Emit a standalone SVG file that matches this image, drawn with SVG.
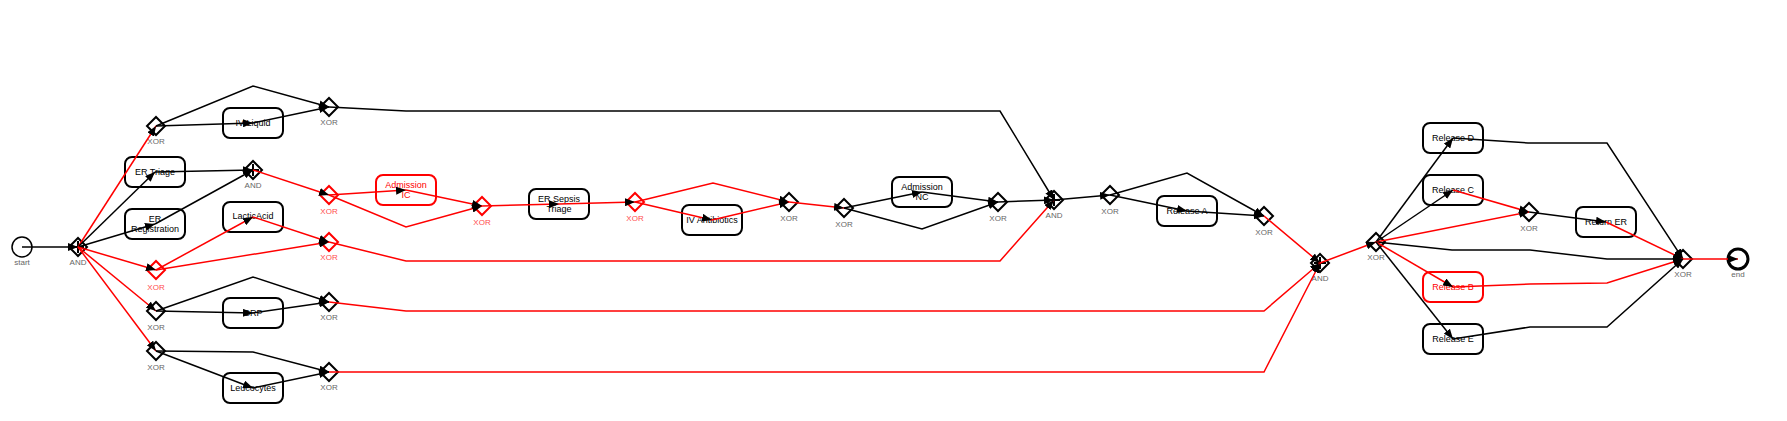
<svg xmlns="http://www.w3.org/2000/svg" width="1787" height="421" viewBox="0 0 1787 421">
<style>
.bg{fill:#fff}
.box{fill:#fff;stroke:#000;stroke-width:2}
.box.red{stroke:#f00}
.gw{fill:#fff;stroke:#000;stroke-width:2}
.gw.red{stroke:#f00}
.plus{stroke:#000;stroke-width:2;fill:none}
.e{fill:none;stroke:#000;stroke-width:1.5;marker-end:url(#arr)}
.e.r{stroke:#f00}
.t{font-family:"Liberation Sans",Arial,sans-serif;font-size:9px;fill:#000;text-anchor:middle}
.t.red{fill:#f00}
.lb{font-family:"Liberation Sans",Arial,sans-serif;font-size:8px;fill:#666;text-anchor:middle}
.lb.red{fill:#ff4d4d}
</style>
<defs>
<marker id="arr" markerUnits="userSpaceOnUse" markerWidth="10" markerHeight="8" refX="10" refY="4" orient="auto">
<path d="M0,0 L10,4 L0,8 Z" fill="#000"/>
</marker>
<path id="dia" d="M-9,0 L0,-9 L9,0 L0,9 Z"/>
<path id="pl" d="M0,-6 V6 M-6,0 H6"/>
</defs>
<rect class="bg" x="0" y="0" width="1787" height="421"/>

<g id="start"><circle cx="22" cy="247" r="10" fill="#fff" stroke="#000" stroke-width="1.5"/><text class="lb" x="22" y="265">start</text></g>
<g id="end"><circle cx="1738" cy="259" r="10" fill="#fff" stroke="#000" stroke-width="3"/><text class="lb" x="1738" y="277">end</text></g>

<g id="g1"><use href="#dia" class="gw" x="78" y="247"/><use href="#pl" class="plus" x="78" y="247"/><text class="lb" x="78" y="265">AND</text></g>
<g id="a2"><use href="#dia" class="gw" x="253" y="170"/><use href="#pl" class="plus" x="253" y="170"/><text class="lb" x="253" y="188">AND</text></g>
<g id="a3"><use href="#dia" class="gw" x="1054" y="200"/><use href="#pl" class="plus" x="1054" y="200"/><text class="lb" x="1054" y="218">AND</text></g>
<g id="a4"><use href="#dia" class="gw" x="1320" y="263"/><use href="#pl" class="plus" x="1320" y="263"/><text class="lb" x="1320" y="281">AND</text></g>

<g id="x1"><use href="#dia" class="gw" x="156" y="126"/><text class="lb" x="156" y="144">XOR</text></g>
<g id="x2"><use href="#dia" class="gw" x="329" y="107"/><text class="lb" x="329" y="125">XOR</text></g>
<g id="x3"><use href="#dia" class="gw red" x="156" y="270"/><text class="lb red" x="156" y="290">XOR</text></g>
<g id="x4"><use href="#dia" class="gw red" x="329" y="242"/><text class="lb red" x="329" y="260">XOR</text></g>
<g id="x5"><use href="#dia" class="gw" x="156" y="311"/><text class="lb" x="156" y="330">XOR</text></g>
<g id="x6"><use href="#dia" class="gw" x="329" y="302"/><text class="lb" x="329" y="320">XOR</text></g>
<g id="x7"><use href="#dia" class="gw" x="156" y="351"/><text class="lb" x="156" y="370">XOR</text></g>
<g id="x8"><use href="#dia" class="gw" x="329" y="372"/><text class="lb" x="329" y="390">XOR</text></g>
<g id="x9"><use href="#dia" class="gw red" x="329" y="195"/><text class="lb red" x="329" y="214">XOR</text></g>
<g id="x10"><use href="#dia" class="gw red" x="482" y="206"/><text class="lb red" x="482" y="225">XOR</text></g>
<g id="x11"><use href="#dia" class="gw red" x="635" y="202"/><text class="lb red" x="635" y="221">XOR</text></g>
<g id="x12"><use href="#dia" class="gw" x="789" y="202"/><text class="lb" x="789" y="221">XOR</text></g>
<g id="x13"><use href="#dia" class="gw" x="844" y="208"/><text class="lb" x="844" y="227">XOR</text></g>
<g id="x14"><use href="#dia" class="gw" x="998" y="202"/><text class="lb" x="998" y="221">XOR</text></g>
<g id="x15"><use href="#dia" class="gw" x="1110" y="195"/><text class="lb" x="1110" y="214">XOR</text></g>
<g id="x16"><use href="#dia" class="gw" x="1264" y="216"/><text class="lb" x="1264" y="235">XOR</text></g>
<g id="x17"><use href="#dia" class="gw" x="1376" y="242"/><text class="lb" x="1376" y="260">XOR</text></g>
<g id="x18"><use href="#dia" class="gw" x="1529" y="212"/><text class="lb" x="1529" y="231">XOR</text></g>
<g id="x19"><use href="#dia" class="gw" x="1683" y="259"/><text class="lb" x="1683" y="277">XOR</text></g>

<g id="er-triage"><rect class="box" x="125" y="157" width="60" height="30" rx="7"/><text class="t" x="155" y="175">ER Triage</text></g>
<g id="er-registration"><rect class="box" x="125" y="209" width="60" height="30" rx="7"/><text class="t" x="155" y="222">ER</text><text class="t" x="155" y="232">Registration</text></g>
<g id="iv-liquid"><rect class="box" x="223" y="108" width="60" height="30" rx="7"/><text class="t" x="253" y="126">IV Liquid</text></g>
<g id="lactic-acid"><rect class="box" x="223" y="202" width="60" height="30" rx="7"/><text class="t" x="253" y="219">LacticAcid</text></g>
<g id="crp"><rect class="box" x="223" y="298" width="60" height="30" rx="7"/><text class="t" x="253" y="316">CRP</text></g>
<g id="leucocytes"><rect class="box" x="223" y="373" width="60" height="30" rx="7"/><text class="t" x="253" y="391">Leucocytes</text></g>
<g id="admission-ic"><rect class="box red" x="376" y="175" width="60" height="30" rx="7"/><text class="t red" x="406" y="188">Admission</text><text class="t red" x="406" y="198">IC</text></g>
<g id="er-sepsis-triage"><rect class="box" x="529" y="189" width="60" height="30" rx="7"/><text class="t" x="559" y="202">ER Sepsis</text><text class="t" x="559" y="212">Triage</text></g>
<g id="iv-antibiotics"><rect class="box" x="682" y="205" width="60" height="30" rx="7"/><text class="t" x="712" y="223">IV Antibiotics</text></g>
<g id="admission-nc"><rect class="box" x="892" y="177" width="60" height="30" rx="7"/><text class="t" x="922" y="190">Admission</text><text class="t" x="922" y="200">NC</text></g>
<g id="release-a"><rect class="box" x="1157" y="196" width="60" height="30" rx="7"/><text class="t" x="1187" y="214">Release A</text></g>
<g id="release-d"><rect class="box" x="1423" y="123" width="60" height="30" rx="7"/><text class="t" x="1453" y="141">Release D</text></g>
<g id="release-c"><rect class="box" x="1423" y="175" width="60" height="30" rx="7"/><text class="t" x="1453" y="193">Release C</text></g>
<g id="return-er"><rect class="box" x="1576" y="207" width="60" height="30" rx="7"/><text class="t" x="1606" y="225">Return ER</text></g>
<g id="release-b"><rect class="box red" x="1423" y="272" width="60" height="30" rx="7"/><text class="t red" x="1453" y="290">Release B</text></g>
<g id="release-e"><rect class="box" x="1423" y="324" width="60" height="30" rx="7"/><text class="t" x="1453" y="342">Release E</text></g>

<g id="connectors">
<polyline class="e" points="22,247 78,247"/>
<polyline class="e r" points="78,247 156,126"/>
<polyline class="e" points="78,247 155,172"/>
<polyline class="e" points="78,247 155,224"/>
<polyline class="e r" points="78,247 156,270"/>
<polyline class="e r" points="78,247 156,311"/>
<polyline class="e r" points="78,247 156,351"/>
<polyline class="e" points="155,172 253,170"/>
<polyline class="e" points="155,224 253,170"/>
<polyline class="e" points="156,126 253,123"/>
<polyline class="e" points="156,126 253,86 329,107"/>
<polyline class="e" points="253,123 329,107"/>
<polyline class="e" points="329,107 406,111 1000,111 1054,200"/>
<polyline class="e r" points="156,270 253,217"/>
<polyline class="e r" points="156,270 329,242"/>
<polyline class="e r" points="253,217 329,242"/>
<polyline class="e r" points="329,242 406,261 1000,261 1054,200"/>
<polyline class="e" points="156,311 253,313"/>
<polyline class="e" points="156,311 253,277 329,302"/>
<polyline class="e" points="253,313 329,302"/>
<polyline class="e r" points="329,302 406,311 1264,311 1320,263"/>
<polyline class="e" points="156,351 253,352 329,372"/>
<polyline class="e" points="156,351 253,388"/>
<polyline class="e" points="253,388 329,372"/>
<polyline class="e r" points="329,372 406,372 1264,372 1320,263"/>
<polyline class="e r" points="253,170 329,195"/>
<polyline class="e r" points="329,195 406,190"/>
<polyline class="e r" points="329,195 406,227 482,206"/>
<polyline class="e r" points="406,190 482,206"/>
<polyline class="e r" points="482,206 559,204"/>
<polyline class="e r" points="559,204 635,202"/>
<polyline class="e r" points="635,202 713,183 789,202"/>
<polyline class="e r" points="635,202 712,220"/>
<polyline class="e r" points="712,220 789,202"/>
<polyline class="e r" points="789,202 844,208"/>
<polyline class="e" points="844,208 922,192"/>
<polyline class="e" points="844,208 922,229 998,202"/>
<polyline class="e" points="922,192 998,202"/>
<polyline class="e" points="998,202 1054,200"/>
<polyline class="e" points="1054,200 1110,195"/>
<polyline class="e" points="1110,195 1187,211"/>
<polyline class="e" points="1110,195 1187,173 1264,216"/>
<polyline class="e" points="1187,211 1264,216"/>
<polyline class="e r" points="1264,216 1320,263"/>
<polyline class="e r" points="1320,263 1376,242"/>
<polyline class="e" points="1376,242 1453,138"/>
<polyline class="e" points="1376,242 1453,190"/>
<polyline class="e r" points="1376,242 1529,212"/>
<polyline class="e" points="1376,242 1452,250 1530,250 1607,259 1683,259"/>
<polyline class="e r" points="1376,242 1453,287"/>
<polyline class="e" points="1376,242 1453,339"/>
<polyline class="e" points="1453,138 1528,143 1607,143 1683,259"/>
<polyline class="e r" points="1453,190 1529,212"/>
<polyline class="e" points="1529,212 1606,222"/>
<polyline class="e r" points="1606,222 1683,259"/>
<polyline class="e r" points="1453,287 1530,284 1607,283 1683,259"/>
<polyline class="e" points="1453,339 1530,327 1607,327 1683,259"/>
<polyline class="e r" points="1683,259 1738,259"/>
</g>
</svg>
